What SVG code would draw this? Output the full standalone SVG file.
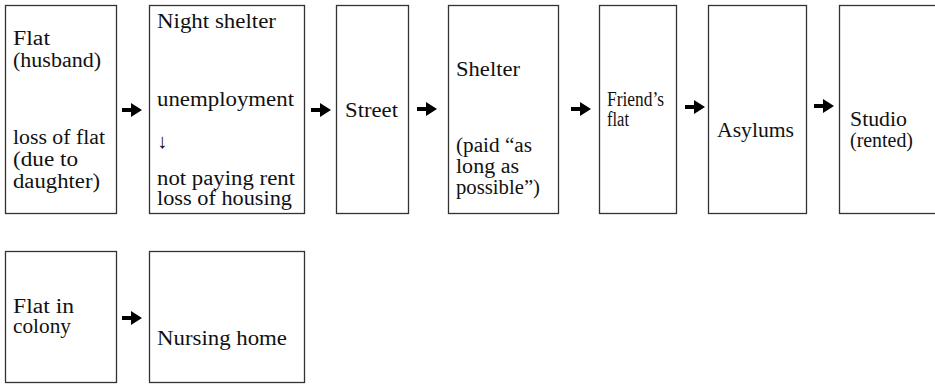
<svg xmlns="http://www.w3.org/2000/svg" xmlns:xlink="http://www.w3.org/1999/xlink" width="935" height="386" viewBox="0 0 935 386">
  <style>
    .box { fill: #ffffff; stroke: #333333; stroke-width: 1.3; }
    text { font-family: 'Liberation Serif', 'Times New Roman', 'DejaVu Serif', serif; font-size: 20.5px; fill: #111111; }
    .arrow { fill: #000000; }
  </style>
  <defs>
    <!-- block arrow: short shaft with a triangular head, drawn around y=0 -->
    <path id="arr" d="M0,-2 H9 V-7 L20,0 L9,7 V2 H0 Z"/>
  </defs>
  <rect width="935" height="386" fill="#ffffff"/>

  <g id="n-flat-husband">
    <rect class="box" x="5.5" y="5.5" width="111" height="208"/>
    <text x="13" y="45" textLength="37" lengthAdjust="spacingAndGlyphs">Flat</text>
    <text x="13" y="67" textLength="88" lengthAdjust="spacingAndGlyphs">(husband)</text>
    <text x="13" y="144" textLength="92" lengthAdjust="spacingAndGlyphs">loss of flat</text>
    <text x="13" y="166" textLength="65" lengthAdjust="spacingAndGlyphs">(due to</text>
    <text x="13" y="188" textLength="87" lengthAdjust="spacingAndGlyphs">daughter)</text>
  </g>

  <g id="n-night-shelter">
    <rect class="box" x="149.5" y="5.5" width="155" height="208"/>
    <text x="157" y="28" textLength="119" lengthAdjust="spacingAndGlyphs">Night shelter</text>
    <text x="157" y="106" textLength="137" lengthAdjust="spacingAndGlyphs">unemployment</text>
    <text x="157" y="148">↓</text>
    <text x="157" y="185" textLength="138" lengthAdjust="spacingAndGlyphs">not paying rent</text>
    <text x="157" y="205" textLength="135" lengthAdjust="spacingAndGlyphs">loss of housing</text>
  </g>

  <g id="n-street">
    <rect class="box" x="336.5" y="5.5" width="72" height="208"/>
    <text x="345" y="117" textLength="53" lengthAdjust="spacingAndGlyphs">Street</text>
  </g>

  <g id="n-shelter">
    <rect class="box" x="448.5" y="5.5" width="110" height="208"/>
    <text x="456" y="76" textLength="64" lengthAdjust="spacingAndGlyphs">Shelter</text>
    <text x="456" y="152" textLength="76" lengthAdjust="spacingAndGlyphs">(paid “as</text>
    <text x="456" y="173" textLength="63" lengthAdjust="spacingAndGlyphs">long as</text>
    <text x="456" y="194" textLength="84" lengthAdjust="spacingAndGlyphs">possible”)</text>
  </g>

  <g id="n-friends-flat">
    <rect class="box" x="599.5" y="5.5" width="77" height="208"/>
    <text x="607" y="106" textLength="57" lengthAdjust="spacingAndGlyphs">Friend’s</text>
    <text x="607" y="126" textLength="22" lengthAdjust="spacingAndGlyphs">flat</text>
  </g>

  <g id="n-asylums">
    <rect class="box" x="708.5" y="5.5" width="98" height="208"/>
    <text x="717" y="137" textLength="77" lengthAdjust="spacingAndGlyphs">Asylums</text>
  </g>

  <g id="n-studio">
    <rect class="box" x="839.5" y="5.5" width="100" height="208"/>
    <text x="850" y="126" textLength="57" lengthAdjust="spacingAndGlyphs">Studio</text>
    <text x="850" y="147" textLength="63" lengthAdjust="spacingAndGlyphs">(rented)</text>
  </g>

  <g id="n-flat-colony">
    <rect class="box" x="5.5" y="251.5" width="111" height="131"/>
    <text x="13" y="313" textLength="61" lengthAdjust="spacingAndGlyphs">Flat in</text>
    <text x="13" y="333" textLength="58" lengthAdjust="spacingAndGlyphs">colony</text>
  </g>

  <g id="n-nursing-home">
    <rect class="box" x="149.5" y="251.5" width="155" height="131"/>
    <text x="157" y="345" textLength="130" lengthAdjust="spacingAndGlyphs">Nursing home</text>
  </g>

  <g id="connectors" class="arrow">
    <use xlink:href="#arr" x="122" y="110"/>
    <use xlink:href="#arr" x="311" y="110"/>
    <use xlink:href="#arr" x="417" y="109"/>
    <use xlink:href="#arr" x="571" y="109"/>
    <use xlink:href="#arr" x="685" y="107"/>
    <use xlink:href="#arr" x="814" y="106"/>
    <use xlink:href="#arr" x="122" y="318"/>
  </g>
</svg>
